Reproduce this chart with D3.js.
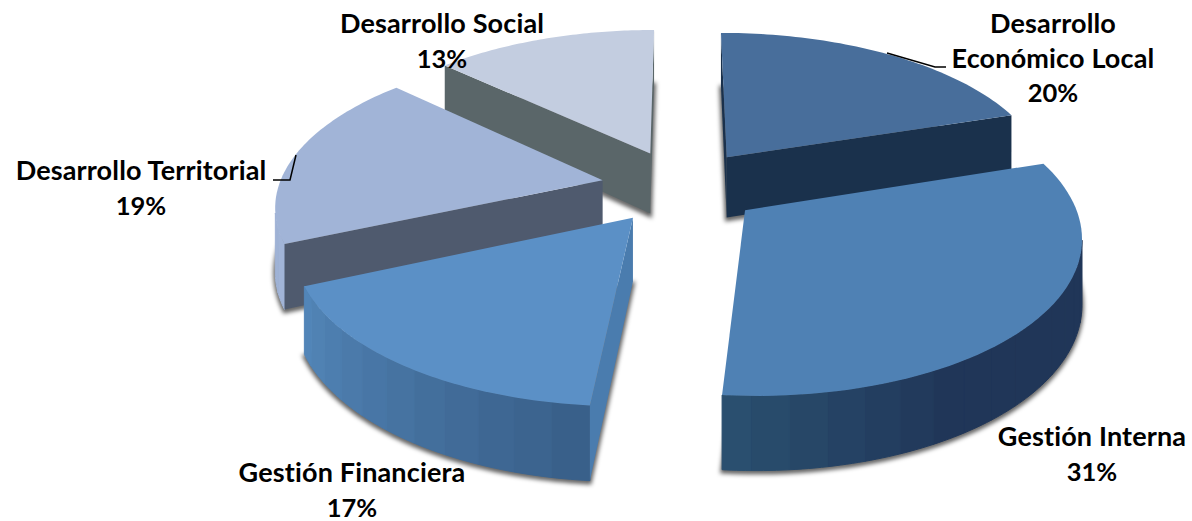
<!DOCTYPE html>
<html lang="es">
<head>
<meta charset="utf-8">
<title>Distribución</title>
<script src="https://cdn.jsdelivr.net/npm/d3@7"></script>
<style>
  html, body { margin: 0; padding: 0; background: #fff; }
  svg { display: block; }
  text { font-family: Lato, "Open Sans", sans-serif; font-weight: 700; font-size: 25.5px; fill: #000; text-anchor: middle; }
  .name { font-size: 27px; letter-spacing: 0.15px; }
</style>
</head>
<body>
<div id="chart"></div>
<script>
// values, the labels round them
const categories = ["Desarrollo Económico Local", "Gestión Interna", "Gestión Financiera", "Desarrollo Territorial", "Desarrollo Social"];
const shares = [20.0, 31.4, 17.0, 18.6, 13.0];

// colours per slice
const topColors = ["#486e9b", "#4f81b4", "#5b90c6", "#a1b4d7", "#c3cde0"];
const cutColors = ["#1a314c", "#203658", "#4a7cae", "#4f5a6e", "#5a6669"];
const wallFrom = ["#1a314c", "#203658", "#39608a", "#8a9dc4", "#7f8da8"];
const wallTo = ["#1a314c", "#2b5272", "#5488bb", "#a1b4d7", "#7f8da8"];

const width = 1192, height = 521;
const cx = 681, cy = 186.5;    // pie centre on screen
const radius = 324;
const explode = 80;
const depth = 62;              // wall height
const tilt = 0.465;            // flattening of the disc
const camera = 2200;           // perspective distance

const svg = d3.select("#chart").append("svg")
    .attr("width", width)
    .attr("height", height);

svg.append("defs").append("filter")
    .attr("id", "blur")
    .attr("x", "-10%").attr("y", "-10%")
    .attr("width", "120%").attr("height", "120%")
    .append("feGaussianBlur")
    .attr("stdDeviation", 2);

// disc coordinates to screen, z goes down from the top surface
const project = (x, y, z) => {
    let k = camera / (camera - y);
    return [cx + x * k, cy + y * tilt * k + z * k];
};

const line = d3.line();

const slices = d3.pie().sort(null)(shares);

function rimPoint(d, angle, z) {
    let mid = (d.startAngle + d.endAngle) / 2;
    let ox = explode * Math.sin(mid), oy = -explode * Math.cos(mid);
    return project(ox + radius * Math.sin(angle), oy - radius * Math.cos(angle), z);
}

function apexPoint(d, z) {
    let mid = (d.startAngle + d.endAngle) / 2;
    return project(explode * Math.sin(mid), -explode * Math.cos(mid), z);
}

function sectorOutline(d, z) {
    let rim = d3.range(0, 61).map((t) => rimPoint(d, d.startAngle + (d.endAngle - d.startAngle) * t / 60, z));
    return [apexPoint(d, z)].concat(rim);
}

function drawSlice(d) {
    let i = d.index;
    let g = svg.append("g");

    // soft shadow of the base only
    g.append("path")
        .attr("d", line(sectorOutline(d, depth)) + "Z")
        .attr("transform", "translate(0,2)")
        .attr("fill", "#000")
        .attr("fill-opacity", 0.5)
        .attr("stroke", "#000")
        .attr("stroke-opacity", 0.5)
        .attr("stroke-width", 4)
        .attr("filter", "url(#blur)");

    // curved wall, cut in bands like the original
    let wallColor = d3.scaleLinear()
        .domain([d.startAngle, d.endAngle])
        .range(i === 2 ? [wallFrom[i], wallTo[i]] : [wallTo[i], wallFrom[i]]);
    if (i === 1) wallColor.domain([d.endAngle, d.startAngle + 1.3, d.startAngle]).range([wallTo[i], wallFrom[i], wallFrom[i]]);
    let bandStep = 0.1;
    d3.range(d.startAngle, d.endAngle, bandStep).forEach((a) => {
        let b = Math.min(a + bandStep, d.endAngle);
        let samples = d3.range(0, 7).map((t) => a + (b - a) * t / 6);
        let pts = samples.map((s) => rimPoint(d, s, 0))
            .concat(samples.slice().reverse().map((s) => rimPoint(d, s, depth)));
        if (d3.polygonArea(pts) <= 0) return;     // faces away
        let c = wallColor(a);
        g.append("path")
            .attr("d", line(pts) + "Z")
            .attr("fill", c)
            .attr("stroke", c)
            .attr("stroke-width", 1);
    });

    // the two straight cut faces, start one shows when positive, end one when negative
    [[d.startAngle, 1], [d.endAngle, -1]].forEach(([angle, side]) => {
        let pts = [apexPoint(d, 0), rimPoint(d, angle, 0), rimPoint(d, angle, depth), apexPoint(d, depth)];
        if (d3.polygonArea(pts) * side <= 0) return;
        g.append("path")
            .attr("d", line(pts) + "Z")
            .attr("fill", cutColors[i]);
    });

    // top surface
    g.append("path")
        .attr("d", line(sectorOutline(d, 0)) + "Z")
        .attr("fill", topColors[i]);
}

// painter's order, back to front
[4, 0, 3, 1, 2].forEach((i) => drawSlice(slices[i]));

// leader lines
const leaders = [
    [[887, 53], [935, 67], [946, 67]],
    [[296, 155], [290, 180], [273, 180]]
];
leaders.forEach((pts) => {
    svg.append("path")
        .attr("d", line(pts))
        .attr("fill", "none")
        .attr("stroke", "#000")
        .attr("stroke-width", 1.5);
});

// labels, wrapped by hand like the original
const percent = (v) => Math.round(v) + "%";
const labelLines = [
    ["Desarrollo", "Económico Local", percent(shares[0])],
    [categories[1], percent(shares[1])],
    [categories[2], percent(shares[2])],
    [categories[3], percent(shares[3])],
    [categories[4], percent(shares[4])]
];
const labelAt = [[1053, 33], [1092, 446], [352, 482], [141, 180], [442, 33]];
const lineGap = 34.5;

labelLines.forEach((rows, i) => {
    let t = svg.append("text");
    rows.forEach((row, j) => {
        t.append("tspan")
            .attr("class", j === rows.length - 1 ? null : "name")
            .attr("x", labelAt[i][0])
            .attr("y", labelAt[i][1] + j * lineGap)
            .text(row);
    });
});
</script>
</body>
</html>
